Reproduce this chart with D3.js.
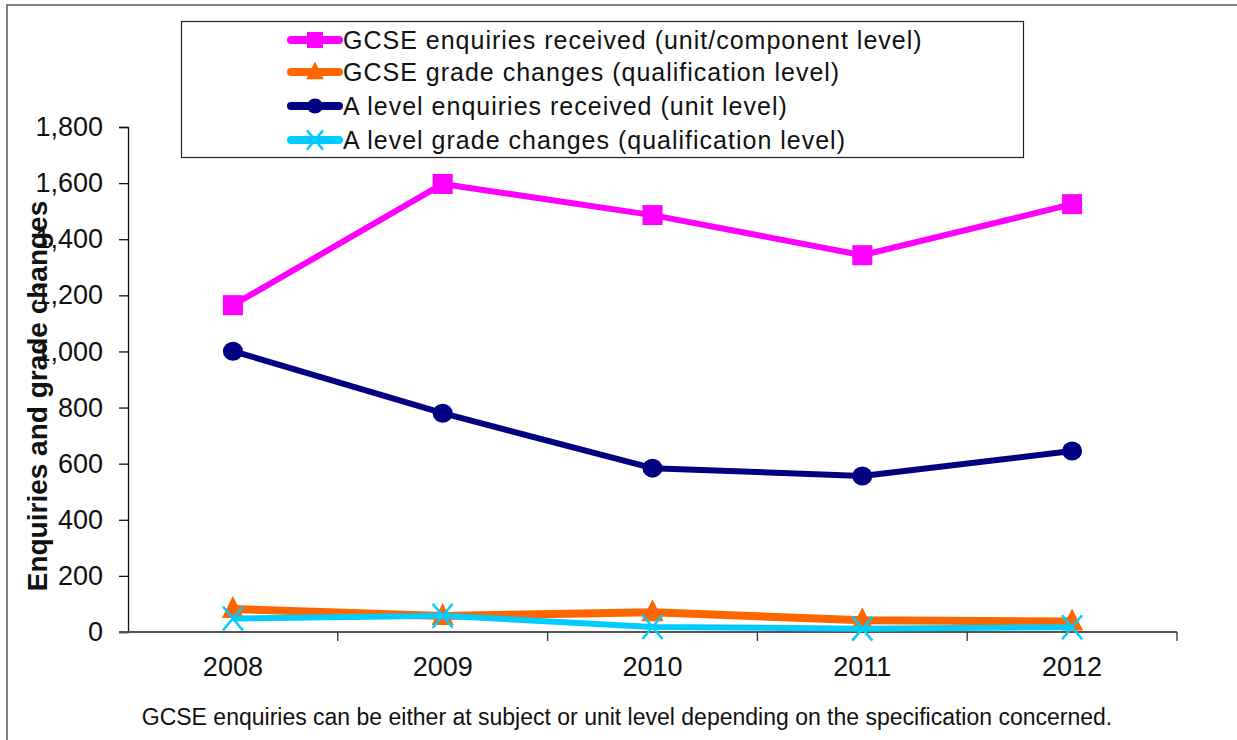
<!DOCTYPE html>
<html>
<head>
<meta charset="utf-8">
<script src="https://cdn.jsdelivr.net/npm/d3@7"></script>
<style>
  body { margin: 0; background: #fff; }
  text { font-family: Arial, "Liberation Sans", sans-serif; }
</style>
</head>
<body>
<div id="chart"></div>
<script>
// Data
const years = ['2008', '2009', '2010', '2011', '2012'];
const gcseEnquiries = [1165, 1597, 1486, 1343, 1525];
const gcseGradeChanges = [82, 57, 70, 42, 37];
const aLevelEnquiries = [1001, 780, 584, 556, 645];
const aLevelGradeChanges = [48, 58, 18, 12, 17];
const yTicks = [0, 200, 400, 600, 800, 1000, 1200, 1400, 1600, 1800];
const seriesNames = [
    'GCSE enquiries received (unit/component level)',
    'GCSE grade changes (qualification level)',
    'A level enquiries received (unit level)',
    'A level grade changes (qualification level)'
];

const series = [
    { name: seriesNames[0], values: gcseEnquiries, color: '#ff00ff', marker: 'square', width: 6 },
    { name: seriesNames[1], values: gcseGradeChanges, color: '#ff6600', marker: 'triangle', width: 8 },
    { name: seriesNames[2], values: aLevelEnquiries, color: '#000080', marker: 'circle', width: 6 },
    { name: seriesNames[3], values: aLevelGradeChanges, color: '#00ccff', marker: 'cross', width: 6 }
];

const width = 1237, height = 740;
const margin = { top: 127, right: 60, bottom: 108, left: 128 };
const innerW = 1177 - margin.left;
const innerH = 632 - margin.top;

const svg = d3.select('#chart').append('svg')
    .attr('width', width)
    .attr('height', height);

// Outer frame
svg.append('rect')
    .attr('x', 7).attr('y', 5)
    .attr('width', width + 20).attr('height', height + 20)
    .attr('fill', 'none')
    .attr('stroke', '#555')
    .attr('stroke-width', 1.5);

const chart = svg.append('g')
    .attr('transform', `translate(${margin.left},${margin.top})`);

const xScale = d3.scaleBand().domain(years).range([0, innerW]).padding(0);
const yScale = d3.scaleLinear().domain([0, 1800]).range([innerH, 0]);
const xPos = d => xScale(d) + xScale.bandwidth() / 2;

// Y axis
const yAxis = d3.axisLeft(yScale)
    .tickValues(yTicks)
    .tickSizeOuter(0)
    .tickSize(9)
    .tickPadding(16)
    .tickFormat(d3.format(','));

const yAxisG = chart.append('g').call(yAxis);
yAxisG.select('.domain').attr('stroke', '#111').attr('stroke-width', 1.3);
yAxisG.selectAll('.tick line').attr('stroke', '#111').attr('stroke-width', 1.3);
yAxisG.selectAll('.tick text')
    .attr('font-size', 27)
    .attr('fill', '#111')
    .style('font-family', 'Arial, "Liberation Sans", sans-serif');

// X axis: ticks sit between categories
const xAxisG = chart.append('g').attr('transform', `translate(0,${innerH})`);
xAxisG.append('line')
    .attr('x1', -9).attr('x2', innerW)
    .attr('stroke', '#555').attr('stroke-width', 2);
xAxisG.selectAll('.xtick')
    .data(years.slice(1).concat(['end']))
    .join('line')
    .attr('class', 'xtick')
    .attr('x1', (d, i) => xScale.bandwidth() * (i + 1))
    .attr('x2', (d, i) => xScale.bandwidth() * (i + 1))
    .attr('y1', 0).attr('y2', 9)
    .attr('stroke', '#333').attr('stroke-width', 1.3);
xAxisG.selectAll('.xlabel')
    .data(years)
    .join('text')
    .attr('class', 'xlabel')
    .attr('x', d => xPos(d))
    .attr('y', 44)
    .attr('text-anchor', 'middle')
    .attr('font-size', 27)
    .attr('fill', '#111')
    .text(d => d);

// Y axis title
svg.append('text')
    .attr('transform', 'translate(47,396) rotate(-90)')
    .attr('text-anchor', 'middle')
    .attr('font-size', 28)
    .attr('font-weight', 'bold')
    .attr('fill', '#111')
    .text('Enquiries  and  grade  changes');

// Marker drawing
function drawMarker(g, type, color, cx, cy, scale) {
    const s = scale || 1;
    if (type === 'square') {
        g.append('rect')
            .attr('x', cx - 10 * s).attr('y', cy - 10 * s)
            .attr('width', 20 * s).attr('height', 20 * s)
            .attr('fill', color);
    } else if (type === 'circle') {
        g.append('ellipse')
            .attr('cx', cx).attr('cy', cy)
            .attr('rx', 10 * s).attr('ry', 9.5 * s)
            .attr('fill', color);
    } else if (type === 'triangle') {
        g.append('path')
            .attr('d', `M${cx},${cy - 13 * s}L${cx + 11 * s},${cy + 9 * s}L${cx - 11 * s},${cy + 9 * s}Z`)
            .attr('fill', color);
    } else if (type === 'cross') {
        g.append('path')
            .attr('d', `M${cx - 10 * s},${cy - 12 * s}L${cx + 10 * s},${cy + 12 * s}M${cx + 10 * s},${cy - 12 * s}L${cx - 10 * s},${cy + 12 * s}`)
            .attr('stroke', color)
            .attr('stroke-width', 2.5)
            .attr('fill', 'none');
    }
}

// Lines and markers
const line = d3.line()
    .x(d => xPos(d.year))
    .y(d => yScale(d.value));

series.forEach(s => {
    const pts = years.map((y, i) => ({ year: y, value: s.values[i] }));
    chart.append('path')
        .datum(pts)
        .attr('d', line)
        .attr('fill', 'none')
        .attr('stroke', s.color)
        .attr('stroke-width', s.width)
        .attr('stroke-linejoin', 'round');
    const mg = chart.append('g');
    pts.forEach(p => drawMarker(mg, s.marker, s.color, xPos(p.year), yScale(p.value)));
});

// Legend
const legend = svg.append('g');
legend.append('rect')
    .attr('x', 181.5).attr('y', 21.5)
    .attr('width', 842).attr('height', 136)
    .attr('fill', '#fff')
    .attr('stroke', '#222')
    .attr('stroke-width', 1.2);

const legendRows = [40, 72, 106, 140];
series.forEach((s, i) => {
    const ly = legendRows[i];
    const g = legend.append('g');
    g.append('line')
        .attr('x1', 291).attr('x2', 339)
        .attr('y1', ly).attr('y2', ly)
        .attr('stroke', s.color)
        .attr('stroke-width', 8)
        .attr('stroke-linecap', 'round');
    drawMarker(g, s.marker, s.color, 315, ly, 0.8);
    g.append('text')
        .attr('x', 343)
        .attr('y', ly + 9)
        .attr('font-size', 25)
        .attr('letter-spacing', 1)
        .attr('fill', '#111')
        .text(s.name);
});

// Footnote
svg.append('text')
    .attr('x', 627)
    .attr('y', 725)
    .attr('text-anchor', 'middle')
    .attr('font-size', 23)
    .attr('fill', '#111')
    .text('GCSE enquiries can be either at subject or unit level depending on the specification concerned.');
</script>
</body>
</html>
